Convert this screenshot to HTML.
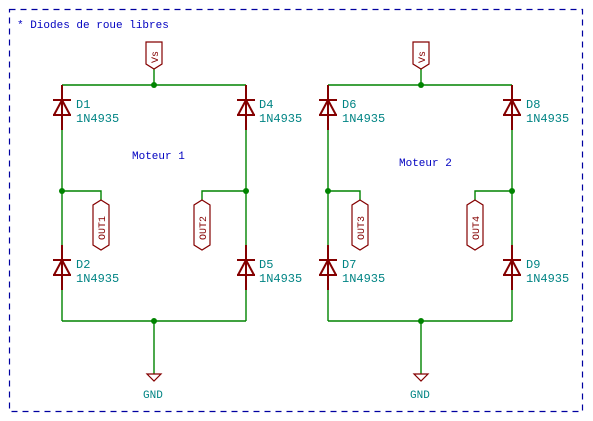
<!DOCTYPE html>
<html><head><meta charset="utf-8"><style>
html,body{margin:0;padding:0;background:#fff;}
svg{display:block;}
text{font-family:"Liberation Mono",monospace;}
</style></head><body>
<svg width="593" height="421" viewBox="0 0 593 421" xmlns="http://www.w3.org/2000/svg">
<defs>
<g id="dio" stroke="#840000" stroke-width="2" fill="none">
<line x1="0" y1="-15" x2="0" y2="30"/>
<line x1="-9" y1="0" x2="9" y2="0"/>
<line x1="-9" y1="15" x2="9" y2="15"/>
<path d="M0 0 L-8 15 M0 0 L8 15"/>
</g>
<g id="vs" stroke="#840000" stroke-width="1.2" fill="none">
<path d="M-8 -27 H8 V-5 L0 0 L-8 -5 Z"/>
</g>
<g id="out" stroke="#840000" stroke-width="1.2" fill="none">
<path d="M0 0 L8 5 V45 L0 50 L-8 45 V5 Z"/>
</g>
<g id="gnd" stroke="#840000" stroke-width="1.2" fill="none">
<path d="M-7 0 H7 L0 7 Z"/>
</g>
</defs>
<rect x="9.5" y="9.5" width="573" height="402" fill="none" stroke="#0000a0" stroke-width="1.2" stroke-dasharray="6,5"/>
<text x="17" y="28" font-size="11" fill="#0000c0">* Diodes de roue libres</text>

<g stroke="#008400" stroke-width="1.4" fill="none">
<path d="M154 69 V85 M62 85 H246 M62 85 V321 M246 85 V321 M62 321 H246 M154 321 V374 M62 191 H101 V200 M246 191 H202 V200"/>
<path d="M421 69 V85 M328 85 H512 M328 85 V321 M512 85 V321 M328 321 H512 M421 321 V374 M328 191 H360 V200 M512 191 H475 V200"/>
</g>
<g fill="#008400">
<circle cx="154" cy="85" r="3"/><circle cx="62" cy="191" r="3"/><circle cx="246" cy="191" r="3"/><circle cx="154" cy="321" r="3"/>
<circle cx="421" cy="85" r="3"/><circle cx="328" cy="191" r="3"/><circle cx="512" cy="191" r="3"/><circle cx="421" cy="321" r="3"/>
</g>

<use href="#dio" x="62" y="100"/><use href="#dio" x="246" y="100"/>
<use href="#dio" x="62" y="260"/><use href="#dio" x="246" y="260"/>
<use href="#dio" x="328" y="100"/><use href="#dio" x="512" y="100"/>
<use href="#dio" x="328" y="260"/><use href="#dio" x="512" y="260"/>

<use href="#vs" x="154" y="69"/><use href="#vs" x="421" y="69"/>
<use href="#out" x="101" y="200"/><use href="#out" x="202" y="200"/>
<use href="#out" x="360" y="200"/><use href="#out" x="475" y="200"/>
<use href="#gnd" x="154" y="374"/><use href="#gnd" x="421" y="374"/>

<g font-size="10" fill="#840000">
<text transform="translate(158,63) rotate(-90)">Vs</text>
<text transform="translate(425,63) rotate(-90)">Vs</text>
<text transform="translate(105,240) rotate(-90)">OUT1</text>
<text transform="translate(206,240) rotate(-90)">OUT2</text>
<text transform="translate(364,240) rotate(-90)">OUT3</text>
<text transform="translate(479,240) rotate(-90)">OUT4</text>
</g>

<g font-size="12" fill="#008484">
<text x="76" y="108">D1</text><text x="76" y="122">1N4935</text>
<text x="259" y="108">D4</text><text x="259" y="122">1N4935</text>
<text x="76" y="268">D2</text><text x="76" y="282">1N4935</text>
<text x="259" y="268">D5</text><text x="259" y="282">1N4935</text>
<text x="342" y="108">D6</text><text x="342" y="122">1N4935</text>
<text x="526" y="108">D8</text><text x="526" y="122">1N4935</text>
<text x="342" y="268">D7</text><text x="342" y="282">1N4935</text>
<text x="526" y="268">D9</text><text x="526" y="282">1N4935</text>
</g>
<g font-size="11" fill="#008484">
<text x="143" y="398">GND</text><text x="410" y="398">GND</text>
</g>
<g font-size="11" fill="#0000c0">
<text x="132" y="159">Moteur 1</text><text x="399" y="166">Moteur 2</text>
</g>
</svg>
</body></html>
